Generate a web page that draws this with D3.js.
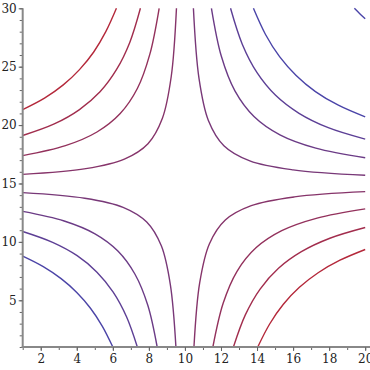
<!DOCTYPE html>
<html lang="en">
<head>
<meta charset="utf-8">
<title>Contour plot</title>
<script src="https://d3js.org/d3.v7.min.js"></script>
<style>
  body { margin: 0; background: white; }
  svg { display: block; }
  .tick text { font-family: "DejaVu Serif", serif; font-size: 12px; fill: #222; }
</style>
</head>
<body>
<script>
// x ticks and y ticks
var xTicks = [2, 4, 6, 8, 10, 12, 14, 16, 18, 20];
var yTicks = [5, 10, 15, 20, 25, 30];

// contour levels, one per curve, by quadrant
var levelsBL = [7, 21.5, 37, 56];
var levelsTL = [-7, -21.5, -37, -57];
var levelsTR = [7, 22, 38, 57, 141];
var levelsBR = [-7, -21.7, -37.7, -56.5];

// curve points [x, y]
var curvesBL = [
  [[1,14.22],[4.44,13.74],[6.57,12.96],[7.88,11.70],[8.69,9.66],[9.19,6.35],[9.5,1]],
  [[1,12.61],[3.30,11.79],[5.01,10.69],[6.28,9.22],[7.23,7.23],[7.94,4.57],[8.46,1]],
  [[1,10.89],[2.66,9.96],[4.02,8.82],[5.12,7.41],[6.02,5.70],[6.76,3.59],[7.36,1]],
  [[1,8.78],[2.14,7.88],[3.13,6.85],[4.00,5.67],[4.76,4.32],[5.42,2.77],[6.00,1]]
];
var curvesTL = [
  [[1,15.78],[4.50,16.27],[6.64,17.09],[7.95,18.41],[8.75,20.59],[9.24,24.16],[9.53,30]],
  [[1,17.39],[3.37,18.24],[5.12,19.41],[6.41,20.99],[7.36,23.13],[8.05,26.05],[8.57,30]],
  [[1,19.11],[2.75,20.10],[4.15,21.33],[5.29,22.85],[6.20,24.74],[6.94,27.08],[7.53,30]],
  [[1,21.33],[2.21,22.31],[3.25,23.44],[4.15,24.75],[4.94,26.26],[5.61,28.00],[6.2,30]]
];
var curvesTR = [
  [[10.47,30],[10.78,24.00],[11.30,20.40],[12.16,18.24],[13.6,16.94],[16.0,16.17],[20,15.70]],
  [[11.47,30],[12.02,25.89],[12.78,22.91],[13.83,20.74],[15.27,19.17],[17.26,18.03],[20,17.2]],
  [[12.53,30],[13.18,26.93],[14.00,24.49],[15.03,22.55],[16.33,21.01],[17.95,19.78],[20,18.8]],
  [[13.8,30],[14.47,27.76],[15.25,25.86],[16.17,24.25],[17.24,22.87],[18.51,21.70],[20,20.7]],
  [[19.4,30],[19.7,29.54],[20,29.1]]
];
var curvesBR = [
  [[10.5,1],[10.82,6.51],[11.36,9.84],[12.24,11.87],[13.68,13.10],[16.07,13.85],[20,14.3]],
  [[11.55,1],[12.12,4.74],[12.89,7.48],[13.94,9.49],[15.37,10.96],[17.33,12.04],[20,12.83]],
  [[12.69,1],[13.35,3.75],[14.17,5.96],[15.19,7.74],[16.46,9.16],[18.04,10.31],[20,11.23]],
  [[14.04,1],[14.70,2.97],[15.46,4.66],[16.35,6.11],[17.39,7.36],[18.60,8.43],[20,9.35]]
];

var w = 370, h = 370;

var x = d3.scaleLinear().domain([1, 20]).range([22.7, 365.2]);
var y = d3.scaleLinear().domain([1, 30]).range([347, 8.3]);

var color = d3.scaleLinear()
  .domain([-57, 57])
  .range(["#b4283a", "#4a44a8"])
  .clamp(true);

var svg = d3.select("body").append("svg")
  .attr("width", w)
  .attr("height", h);

var line = d3.line()
  .x(function(d) { return x(d[0]); })
  .y(function(d) { return y(d[1]); })
  .curve(d3.curveCatmullRom.alpha(0.5));

var sets = [
  [curvesBL, levelsBL], [curvesTL, levelsTL],
  [curvesTR, levelsTR], [curvesBR, levelsBR]
];
sets.forEach(function(s) {
  svg.append("g").selectAll("path")
    .data(s[0])
    .enter().append("path")
    .attr("d", line)
    .attr("fill", "none")
    .attr("stroke", function(d, i) { return color(s[1][i]); })
    .attr("stroke-width", 1.4);
});

// minor ticks
svg.append("g")
  .attr("transform", "translate(0," + y(1) + ")")
  .call(d3.axisBottom(x).tickValues(d3.range(1, 21)).tickSize(3).tickFormat(""))
  .call(function(g) { g.select(".domain").remove(); })
  .selectAll("line").attr("stroke", "#666");
svg.append("g")
  .attr("transform", "translate(" + x(1) + ",0)")
  .call(d3.axisLeft(y).tickValues(d3.range(1, 31)).tickSize(3).tickFormat(""))
  .call(function(g) { g.select(".domain").remove(); })
  .selectAll("line").attr("stroke", "#666");

// major axes
var xa = svg.append("g")
  .attr("transform", "translate(0," + y(1) + ")")
  .call(d3.axisBottom(x).tickValues(xTicks).tickSize(4).tickSizeOuter(0).tickPadding(3));
xa.select(".domain").attr("stroke", "#888").attr("stroke-width", 2)
  .attr("d", "M" + (x(1) - 1) + ",0H" + w);
xa.selectAll(".tick line").attr("stroke", "#666");

var ya = svg.append("g")
  .attr("transform", "translate(" + x(1) + ",0)")
  .call(d3.axisLeft(y).tickValues(yTicks).tickSize(4).tickSizeOuter(0).tickPadding(2));
ya.select(".domain").attr("stroke", "#888").attr("stroke-width", 2)
  .attr("d", "M0," + y(30) + "V" + (y(1) + 1));
ya.selectAll(".tick line").attr("stroke", "#666");
</script>
</body>
</html>
